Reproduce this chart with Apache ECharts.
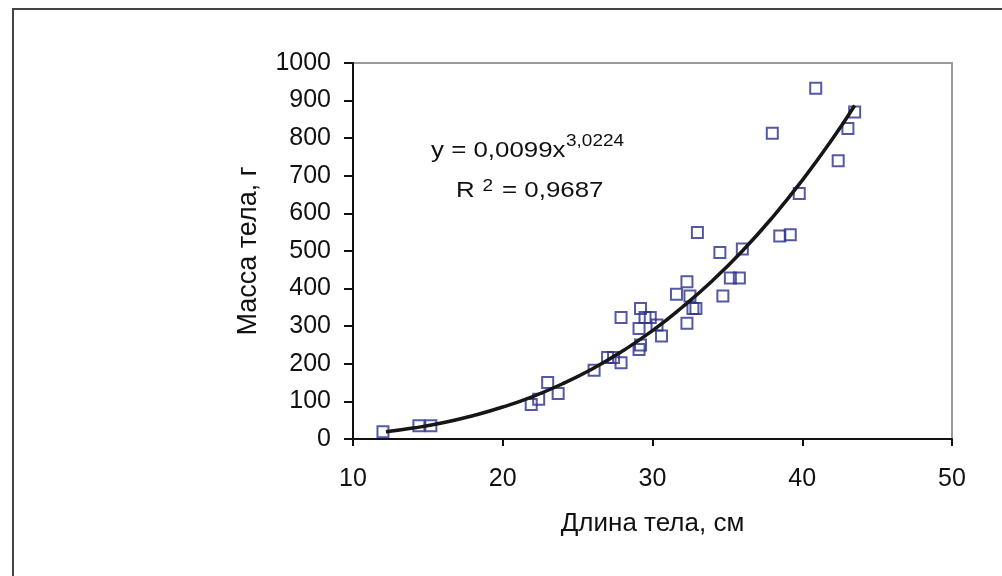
<!DOCTYPE html>
<html>
<head>
<meta charset="utf-8">
<script src="https://cdn.jsdelivr.net/npm/echarts@6/dist/echarts.min.js"></script>
<style>
html,body{margin:0;padding:0;background:#fff;}
#chart{width:1002px;height:576px;}
</style>
</head>
<body>
<div id="chart"></div>
<script>
// Observed data: body length (cm) and body mass (g)
var lengthCm = [12.0, 14.4, 15.2, 21.9, 22.4, 23.0, 23.7, 26.1, 27.0, 27.4, 27.9, 27.9,
  29.1, 29.2, 29.5, 29.85, 29.2, 29.1, 30.3, 30.6, 31.6, 32.3, 32.3, 32.5, 32.7, 32.9,
  33.0, 34.5, 34.7, 35.2, 35.8, 36.0, 38.0, 38.5, 39.2, 39.8, 40.9, 42.4, 43.05, 43.5];
var massG = [19, 35, 35, 92, 106, 150, 121, 183, 217, 217, 203, 323,
  294, 347, 323, 323, 250, 238, 303, 274, 385, 418, 308, 380, 347, 347,
  549, 496, 380, 428, 428, 505, 813, 540, 543, 653, 933, 740, 826, 870];

// Trend line
var trendX = [12.2, 14, 16, 18, 20, 22, 24, 26, 28, 30, 32, 34, 36, 38, 40, 42, 43.5];
var trendY = [19, 29, 43, 62, 85, 113, 147, 187, 234, 288, 351, 421, 500, 589, 688, 797, 887];

var xTicks = {min: 10, max: 50, interval: 10};
var yTicks = {min: 0, max: 1000, interval: 100};

var xAxisTitle = 'Длина тела, см';
var yAxisTitle = 'Масса тела, г';
var eqMain = 'y = 0,0099x';
var eqPow = '3,0224';
var r2Main = 'R';
var r2Pow = '2';
var r2Rest = '= 0,9687';

var scatterData = lengthCm.map(function (x, i) { return [x, massG[i]]; });
var trendData = trendX.map(function (x, i) { return [x, trendY[i]]; });

var FONT = '"Liberation Sans", Arial, sans-serif';
var chart = echarts.init(document.getElementById('chart'), null, {renderer: 'canvas'});

chart.setOption({
  animation: false,
  backgroundColor: '#ffffff',
  grid: {left: 353, right: 50, top: 63, bottom: 137, show: true,
         borderColor: '#9a9a9a', borderWidth: 2, backgroundColor: 'transparent'},
  xAxis: {
    type: 'value', min: xTicks.min, max: xTicks.max, interval: xTicks.interval,
    name: xAxisTitle, nameLocation: 'middle', nameGap: 72,
    nameTextStyle: {fontFamily: FONT, fontSize: 26, color: '#111'},
    axisLine: {show: true, onZero: false, lineStyle: {color: '#111', width: 2}},
    axisTick: {show: true, inside: false, length: 7, lineStyle: {color: '#111', width: 2}},
    axisLabel: {fontFamily: FONT, fontSize: 25, color: '#111', margin: 28,
                formatter: function (v) { return String(v); }},
    splitLine: {show: false}
  },
  yAxis: {
    type: 'value', min: yTicks.min, max: yTicks.max, interval: yTicks.interval,
    name: yAxisTitle, nameLocation: 'middle', nameGap: 91, nameRotate: 90,
    nameTextStyle: {fontFamily: FONT, fontSize: 27, color: '#111'},
    axisLine: {show: true, onZero: false, lineStyle: {color: '#111', width: 2}},
    axisTick: {show: true, inside: false, length: 9, lineStyle: {color: '#111', width: 2}},
    axisLabel: {fontFamily: FONT, fontSize: 25, color: '#111', margin: 22,
                formatter: function (v) { return String(v); }},
    splitLine: {show: false}
  },
  series: [
    {
      type: 'scatter', data: scatterData, symbol: 'rect', symbolSize: 11,
      itemStyle: {color: 'rgba(255,255,255,0)', borderColor: '#2b2f8f', borderWidth: 2},
      z: 2
    },
    {
      type: 'line', data: trendData, smooth: true, symbol: 'none',
      lineStyle: {color: '#161616', width: 3.5}, z: 3
    }
  ],
  graphic: [
    {type: 'rect', shape: {x: 13, y: 9, width: 1010, height: 600},
     style: {fill: 'none', stroke: '#444', lineWidth: 2}, silent: true},
    {type: 'text', x: 431, y: 150.5, scaleX: 1.15,
     style: {text: eqMain, font: '22.5px ' + FONT, fill: '#111', textVerticalAlign: 'middle'}},
    {type: 'text', x: 566, y: 141, scaleX: 1.15,
     style: {text: eqPow, font: '16.5px ' + FONT, fill: '#111', textVerticalAlign: 'middle'}},
    {type: 'text', x: 456, y: 190.5, scaleX: 1.15,
     style: {text: r2Main, font: '22.5px ' + FONT, fill: '#111', textVerticalAlign: 'middle'}},
    {type: 'text', x: 482.5, y: 186, scaleX: 1.15,
     style: {text: r2Pow, font: '16.5px ' + FONT, fill: '#111', textVerticalAlign: 'middle'}},
    {type: 'text', x: 502, y: 190.5, scaleX: 1.15,
     style: {text: r2Rest, font: '22.5px ' + FONT, fill: '#111', textVerticalAlign: 'middle'}}
  ]
});
</script>
</body>
</html>
